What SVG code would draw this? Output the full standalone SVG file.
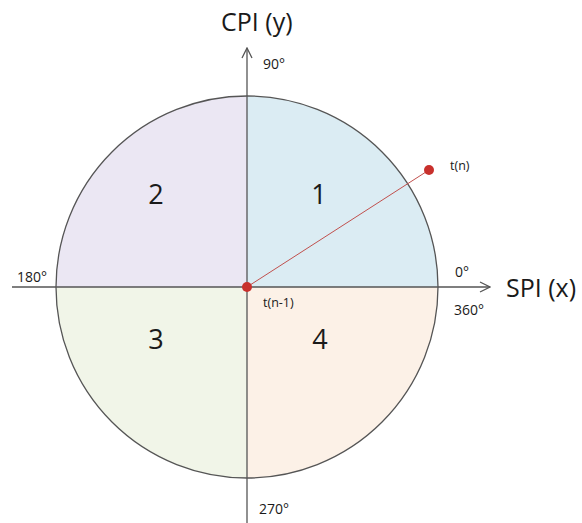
<svg xmlns="http://www.w3.org/2000/svg" width="582" height="523" viewBox="0 0 582 523">
<style>
text{font-family:"Open Sans","Liberation Sans",sans-serif;fill:#1a1a1a}
.ax{stroke:#555;stroke-width:1.3;fill:none}
.lbl{font-size:14px}
.sm{font-size:12.5px}
.big{font-size:25px}
.num{font-size:27px;text-anchor:middle}
</style>
<defs>
<marker id="arr" viewBox="0 0 12 12" refX="11" refY="6" markerWidth="12" markerHeight="12" markerUnits="userSpaceOnUse" orient="auto">
<path d="M1,1 L11,6 L1,11" fill="none" stroke="#555" stroke-width="1.3"/>
</marker>
</defs>
<g id="quadrants">
<path id="q1" d="M247,287 L247,96 A191,191 0 0 1 438,287 Z" fill="#dbecf3"/>
<path id="q2" d="M247,287 L56,287 A191,191 0 0 1 247,96 Z" fill="#ebe7f3"/>
<path id="q3" d="M247,287 L247,478 A191,191 0 0 1 56,287 Z" fill="#f1f5e8"/>
<path id="q4" d="M247,287 L438,287 A191,191 0 0 1 247,478 Z" fill="#fcf1e7"/>
<circle cx="247" cy="287" r="191" fill="none" stroke="#555" stroke-width="1.3"/>
</g>
<g id="connectors">
<line class="ax" x1="12" y1="287" x2="490" y2="287" marker-end="url(#arr)"/>
<line class="ax" x1="247" y1="523" x2="247" y2="48" marker-end="url(#arr)"/>
<line x1="247" y1="287" x2="429" y2="170" stroke="#c0504d" stroke-width="1"/>
</g>
<g id="points">
<circle cx="247" cy="287" r="5" fill="#c8302c"/>
<circle cx="429" cy="170" r="5" fill="#c8302c"/>
</g>
<g id="labels">
<text class="big" x="221" y="31">CPI (y)</text>
<text class="big" x="506" y="297">SPI (x)</text>
<text class="lbl" x="263" y="69">90°</text>
<text class="lbl" x="17" y="282">180°</text>
<text class="lbl" x="455" y="277">0°</text>
<text class="lbl" x="454" y="315">360°</text>
<text class="lbl" x="259" y="514">270°</text>
<text class="sm" x="450" y="170">t(n)</text>
<text class="sm" x="263" y="307">t(n-1)</text>
<text class="num" x="319" y="204">1</text>
<text class="num" x="156" y="204">2</text>
<text class="num" x="156" y="349">3</text>
<text class="num" x="320" y="349">4</text>
</g>
</svg>
